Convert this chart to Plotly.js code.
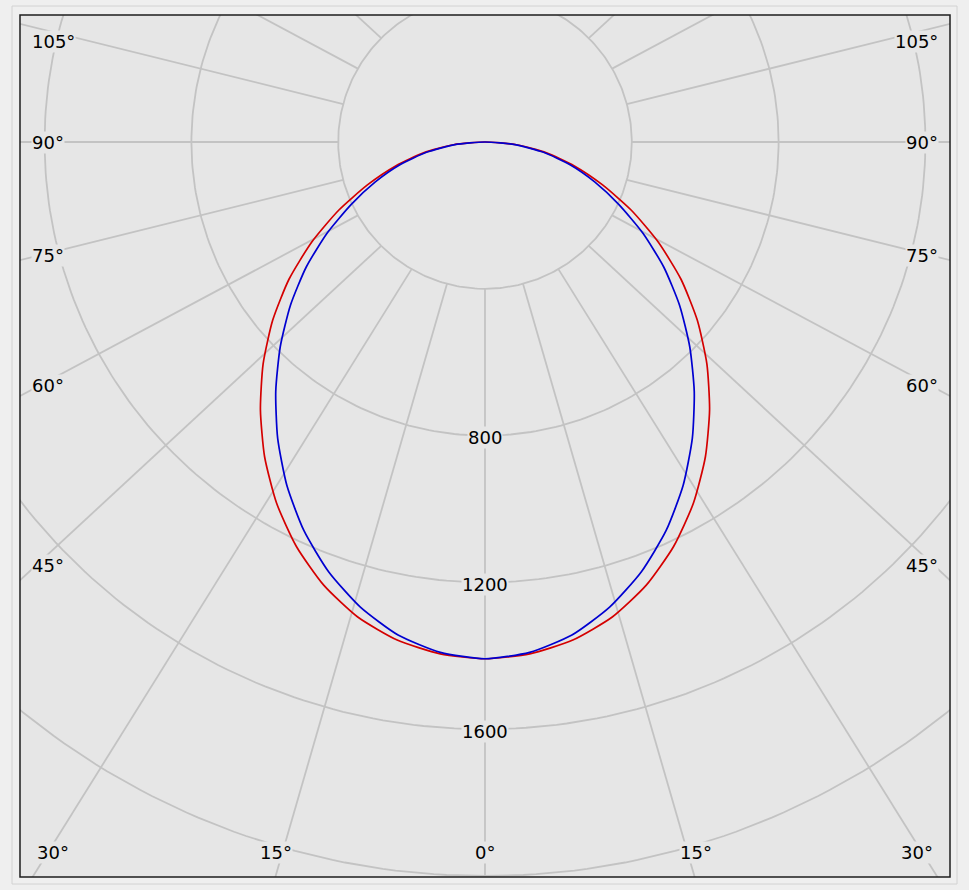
<!DOCTYPE html>
<html>
<head>
<meta charset="utf-8">
<script src="https://cdn.plot.ly/plotly-3.0.1.min.js"></script>
<style>html,body{margin:0;padding:0;background:#efefef;}#chart{width:969px;height:890px;}</style>
</head>
<body>
<div id="chart"></div>
<script>
// ---- data ----
const gammaAngles = [0, 5, 10, 15, 20, 25, 30, 35, 40, 45, 50, 55, 60, 65, 70, 75, 80, 85, 90];
const redValues  = [1408, 1400, 1378, 1340, 1285, 1216, 1136, 1047, 952, 855, 755, 652, 545, 440, 340, 252, 170, 86, 0];   // C0 - C180
const blueValues = [1408, 1396, 1364, 1312, 1246, 1168, 1080, 985, 887, 789, 692, 595, 497, 402, 318, 240, 162, 82, 0];   // C90 - C270
const gridRadii = [400, 800, 1200, 1600, 2000];
const radialLabelValues = [800, 1200, 1600];
const gridAngles = [0, 15, 30, 45, 60, 75, 90, 105, 120, 135, 150, 165, 180, 195, 210, 225, 240, 255, 270, 285, 300, 315, 330, 345];
const leftAngleLabels   = ['105°', '90°', '75°', '60°', '45°'];
const rightAngleLabels  = ['105°', '90°', '75°', '60°', '45°'];
const bottomAngleLabels = ['30°', '15°', '0°', '15°', '30°'];

// ---- layout constants ----
const W = 969, H = 890;
const PL = 20, PR = 950, PT = 15, PB = 877;      // plot box in pixels
const CX = 485, CY = 142;                         // pole in pixels
const SCALE = 0.367;                              // px per cd
const RAY_STRETCH = 1.08;
const GRID_COLOR = '#c3c3c3';
const PLOT_BG = '#e6e6e6';
const FONT = {family: 'DejaVu Sans, Verdana, sans-serif', size: 18, color: '#000'};

const xRange = [(PL - CX) / SCALE, (PR - CX) / SCALE];
const yRange = [(CY - PB) / SCALE, (CY - PT) / SCALE];
const rad = d => d * Math.PI / 180;

const traces = [];
// grid circles
gridRadii.forEach(r => {
  const xs = [], ys = [];
  for (let a = 0; a <= 360; a += 1) { xs.push(r * Math.sin(rad(a))); ys.push(-r * Math.cos(rad(a))); }
  traces.push({type: 'scatter', mode: 'lines', x: xs, y: ys, line: {color: GRID_COLOR, width: 1.8}, hoverinfo: 'skip', showlegend: false});
});
// radial grid lines, starting at the innermost circle
const rInner = gridRadii[0];
gridAngles.forEach(a => {
  const s = Math.sin(rad(a)), c = Math.cos(rad(a));
  const x0 = rInner * s, y0 = -rInner * c;
  const L = 6000;
  traces.push({type: 'scatter', mode: 'lines', x: [x0, x0 + L * RAY_STRETCH * s], y: [y0, y0 - L * c],
    line: {color: GRID_COLOR, width: 1.8}, hoverinfo: 'skip', showlegend: false});
});
// curves
function curve(values, color) {
  const xs = [], ys = [];
  for (let i = gammaAngles.length - 1; i >= 0; i--) { const a = -gammaAngles[i]; xs.push(values[i] * Math.sin(rad(a))); ys.push(-values[i] * Math.cos(rad(a))); }
  for (let i = 1; i < gammaAngles.length; i++) { const a = gammaAngles[i]; xs.push(values[i] * Math.sin(rad(a))); ys.push(-values[i] * Math.cos(rad(a))); }
  return {type: 'scatter', mode: 'lines', x: xs, y: ys, line: {color: color, width: 1.7, shape: 'spline', smoothing: 0.6},
    hoverinfo: 'skip', showlegend: false};
}
traces.push(curve(redValues, '#d40000'));
traces.push(curve(blueValues, '#0000d0'));

// annotations
const px2x = px => (px - PL) / (PR - PL);
const py2y = py => (PB - py) / (PB - PT);
const annotations = [];
radialLabelValues.forEach(v => {
  annotations.push({x: 0, y: -v, xref: 'x', yref: 'y', text: String(v), showarrow: false, font: FONT,
    bgcolor: PLOT_BG, borderpad: 0, yshift: -2, xanchor: 'center', yanchor: 'middle'});
});
const sideY = [42, 142, 255, 385, 565];
leftAngleLabels.forEach((t, i) => annotations.push({x: px2x(31), y: py2y(sideY[i]), xref: 'paper', yref: 'paper', text: t,
  showarrow: false, font: FONT, bgcolor: PLOT_BG, borderpad: 0, xanchor: 'left', yanchor: 'middle'}));
rightAngleLabels.forEach((t, i) => annotations.push({x: px2x(939), y: py2y(sideY[i]), xref: 'paper', yref: 'paper', text: t,
  showarrow: false, font: FONT, bgcolor: PLOT_BG, borderpad: 0, xanchor: 'right', yanchor: 'middle'}));
const bottomX = [53, 276, 485.5, 696, 917];
bottomAngleLabels.forEach((t, i) => annotations.push({x: px2x(bottomX[i]), y: py2y(852), xref: 'paper', yref: 'paper', text: t,
  showarrow: false, font: FONT, bgcolor: PLOT_BG, borderpad: 0, xanchor: 'center', yanchor: 'middle'}));

const layout = {
  width: W, height: H,
  margin: {l: PL, r: W - PR, t: PT, b: H - PB, pad: 0},
  paper_bgcolor: '#efefef', plot_bgcolor: PLOT_BG,
  xaxis: {range: xRange, showgrid: false, zeroline: false, showticklabels: false, ticks: '', fixedrange: true},
  yaxis: {range: yRange, showgrid: false, zeroline: false, showticklabels: false, ticks: '', fixedrange: true},
  showlegend: false,
  annotations: annotations,
  shapes: [
    {type: 'rect', xref: 'paper', yref: 'paper', x0: px2x(12), x1: px2x(957), y0: py2y(884), y1: py2y(6),
      line: {color: '#d2d2d2', width: 1}, layer: 'below'},
    {type: 'rect', xref: 'paper', yref: 'paper', x0: 0, x1: 1, y0: 0, y1: 1, line: {color: '#1e1e1e', width: 1.5}}
  ]
};
Plotly.newPlot('chart', traces, layout, {staticPlot: true, displayModeBar: false});
</script>
</body>
</html>
